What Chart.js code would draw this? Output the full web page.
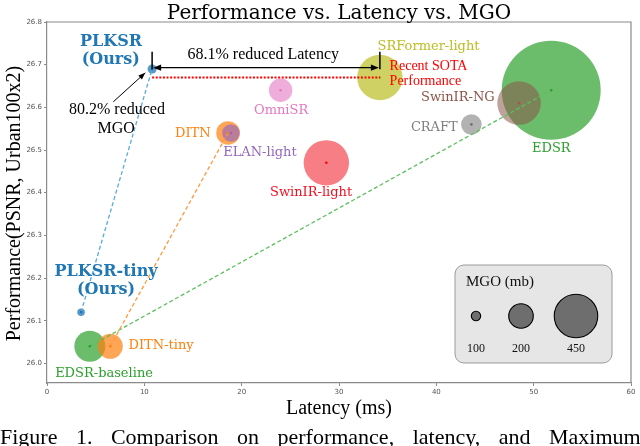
<!DOCTYPE html>
<html>
<head>
<meta charset="utf-8">
<script src="https://cdn.jsdelivr.net/npm/chart.js@4.4.0/dist/chart.umd.min.js"></script>
<style>
  body { margin: 0; background: #fff; }
  #wrap { width: 640px; height: 446px; }
</style>
</head>
<body>
<div id="wrap"><canvas id="chart" width="640" height="446"></canvas></div>
<script>
// models, in drawing order (first = bottom)
var models  = ['EDSR', 'SwinIR-NG', 'CRAFT', 'SRFormer-light', 'SwinIR-light', 'OmniSR',
               'DITN', 'ELAN-light', 'EDSR-baseline', 'DITN-tiny', 'PLKSR-tiny', 'PLKSR'];
var latency = [51.8, 48.5, 43.6, 34.2, 28.7, 24.0, 18.6, 18.9, 4.4, 6.5, 3.5, 10.8];
var psnr    = [26.64, 26.61, 26.56, 26.67, 26.47, 26.64, 26.54, 26.54, 26.04, 26.04, 26.12, 26.69];
var mgo     = [1982, 451, 165, 482, 482, 189, 191, 143, 269, 204, 94, 99];

var xTicks = [0, 10, 20, 30, 40, 50, 60];
var yTicks = [26.0, 26.1, 26.2, 26.3, 26.4, 26.5, 26.6, 26.7, 26.8];
var legendMgo = [100, 200, 450];

// styles
var fills = ['rgba(44,160,44,0.7)', 'rgba(140,86,75,0.55)', 'rgba(127,127,127,0.6)', 'rgba(188,189,34,0.7)',
             'rgba(240,40,50,0.6)', 'rgba(227,119,194,0.6)', 'rgba(255,127,14,0.7)', 'rgba(148,103,189,0.65)',
             'rgba(44,160,44,0.7)', 'rgba(255,127,14,0.7)', 'rgba(31,119,180,0.75)', 'rgba(31,119,180,0.75)'];
var dots  = ['#2ca02c', '#b4504b', '#707070', '#a8a81e', '#ff0000', '#e377c2',
             '#ff7f0e', '#9467bd', '#2ca02c', '#ff7f0e', '#1f77b4', '#1f77b4'];

var links = [['PLKSR-tiny', 'PLKSR', '#5aaae0'], ['DITN-tiny', 'DITN', '#ff9a40'], ['EDSR-baseline', 'EDSR', '#5cc05c']];

// text labels: [text, x, y, colour, font, align]
var serif = '"DejaVu Serif", serif';
var times = '"Liberation Serif", "Times New Roman", serif';
var labels = [
  ['PLKSR', 6.58, 26.7545, '#1f77b4', 'bold 16px ' + serif, 'center'],
  ['(Ours)', 6.55, 26.7116, '#1f77b4', 'bold 16px ' + serif, 'center'],
  ['PLKSR-tiny', 6.07, 26.2149, '#1f77b4', 'bold 16px ' + serif, 'center'],
  ['(Ours)', 6.07, 26.172, '#1f77b4', 'bold 16px ' + serif, 'center'],
  ['OmniSR', 24.05, 26.593, '#e377c2', '13px ' + serif, 'center'],
  ['DITN', 14.98, 26.539, '#ff7f0e', '13px ' + serif, 'center'],
  ['ELAN-light', 21.88, 26.4946, '#9467bd', '13px ' + serif, 'center'],
  ['SwinIR-light', 27.13, 26.3995, '#f01020', '13px ' + serif, 'center'],
  ['SRFormer-light', 39.2, 26.7432, '#bcbd22', '13px ' + serif, 'center'],
  ['SwinIR-NG', 42.21, 26.6229, '#8c564b', '13px ' + serif, 'center'],
  ['CRAFT', 39.79, 26.5532, '#7f7f7f', '13px ' + serif, 'center'],
  ['EDSR', 51.81, 26.5027, '#2ca02c', '13px ' + serif, 'center'],
  ['EDSR-baseline', 5.86, 25.977, '#2ca02c', '13px ' + serif, 'center'],
  ['DITN-tiny', 11.72, 26.0411, '#ff7f0e', '13px ' + serif, 'center'],
  ['68.1% reduced Latency', 22.22, 26.722, '#000', '16px ' + times, 'center'],
  ['80.2% reduced', 7.19, 26.594, '#000', '16px ' + times, 'center'],
  ['MGO', 7.1, 26.5486, '#000', '16px ' + times, 'center'],
  ['Recent SOTA', 35.2, 26.695, '#ff0000', '14px ' + times, 'left'],
  ['Performance', 35.2, 26.66, '#ff0000', '14px ' + times, 'left']
];

function mgoToRadius(m) { return Math.sqrt(1.29 * (m - 83)); }
function idx(name) { return models.indexOf(name); }

var bubbles = models.map(function (m, i) { return { x: latency[i], y: psnr[i], r: mgoToRadius(mgo[i]) }; });
var centers = models.map(function (m, i) { return { x: latency[i], y: psnr[i] }; });

var datasets = [{
  type: 'scatter', data: centers, pointRadius: 1.3, pointBackgroundColor: dots, pointBorderWidth: 0
}];
links.forEach(function (l) {
  var a = idx(l[0]), b = idx(l[1]);
  datasets.push({
    type: 'line', data: [{ x: latency[a], y: psnr[a] }, { x: latency[b], y: psnr[b] }],
    borderColor: l[2], borderWidth: 1.3, borderDash: [4, 2.5], pointRadius: 0, fill: false
  });
});
datasets.push({ type: 'bubble', data: bubbles, backgroundColor: fills, borderWidth: 0 });

function head(ctx, x1, y1, x2, y2, len, w) {
  var a = Math.atan2(y2 - y1, x2 - x1);
  ctx.beginPath();
  ctx.moveTo(x2, y2);
  ctx.lineTo(x2 - len * Math.cos(a) + w * Math.sin(a), y2 - len * Math.sin(a) - w * Math.cos(a));
  ctx.lineTo(x2 - len * Math.cos(a) - w * Math.sin(a), y2 - len * Math.sin(a) + w * Math.cos(a));
  ctx.closePath();
  ctx.fill();
}

var annotations = {
  id: 'annotations',
  afterDatasetsDraw: function (chart) {
    var ctx = chart.ctx, xs = chart.scales.x, ys = chart.scales.y, ca = chart.chartArea;
    var p = idx('PLKSR'), s = idx('SRFormer-light');
    var x1 = xs.getPixelForValue(latency[p]), x2 = xs.getPixelForValue(latency[s]);
    ctx.save();
    // red dotted line at SOTA level
    ctx.strokeStyle = '#ff0000'; ctx.lineWidth = 2; ctx.setLineDash([2, 1.6]);
    var yr = ys.getPixelForValue(psnr[s]);
    ctx.beginPath(); ctx.moveTo(x1, yr); ctx.lineTo(x2, yr); ctx.stroke();
    ctx.setLineDash([]);
    // latency double arrow with end bars
    var ya = ys.getPixelForValue(psnr[p] + 0.003), yb = ys.getPixelForValue(26.73);
    ctx.strokeStyle = '#000'; ctx.fillStyle = '#000'; ctx.lineWidth = 1.3;
    ctx.beginPath(); ctx.moveTo(x1 + 4, ya); ctx.lineTo(x2 - 4, ya); ctx.stroke();
    head(ctx, x2, ya, x1 + 1, ya, 8, 3.2);
    head(ctx, x1, ya, x2 - 1, ya, 8, 3.2);
    ctx.lineWidth = 1.5;
    [x1, x2].forEach(function (x) {
      ctx.beginPath(); ctx.moveTo(x, ya + 1.5); ctx.lineTo(x, yb); ctx.stroke();
    });
    // MGO arrow
    var ax = xs.getPixelForValue(6.81), ay = ys.getPixelForValue(26.613);
    var bx = xs.getPixelForValue(10.1), by = ys.getPixelForValue(26.681);
    ctx.lineWidth = 1;
    ctx.beginPath(); ctx.moveTo(ax, ay); ctx.lineTo(bx, by); ctx.stroke();
    head(ctx, ax, ay, bx, by, 7, 2.6);
    // labels
    labels.forEach(function (l) {
      ctx.font = l[4]; ctx.fillStyle = l[3]; ctx.textAlign = l[5]; ctx.textBaseline = 'middle';
      ctx.fillText(l[0], xs.getPixelForValue(l[1]), ys.getPixelForValue(l[2]));
    });
    // top and right spines
    ctx.strokeStyle = '#8a8a8a'; ctx.lineWidth = 1.2;
    ctx.beginPath(); ctx.moveTo(ca.left, ca.top); ctx.lineTo(ca.right, ca.top); ctx.lineTo(ca.right, ca.bottom); ctx.stroke();

    // size legend
    var bw = 157, bh = 98, bxr = ca.right - 19 - bw, byt = ca.bottom - 20 - bh;
    ctx.fillStyle = '#e6e6e6'; ctx.strokeStyle = '#9a9a9a'; ctx.lineWidth = 1;
    ctx.beginPath(); ctx.roundRect(bxr, byt, bw, bh, 9); ctx.fill(); ctx.stroke();
    ctx.fillStyle = '#111'; ctx.font = '15px ' + times; ctx.textAlign = 'left'; ctx.textBaseline = 'middle';
    ctx.fillText('MGO (mb)', bxr + 11, byt + 17);
    var offs = [21, 66, 121];
    legendMgo.forEach(function (m, i) {
      var cx = bxr + offs[i], cy = byt + 51;
      ctx.beginPath(); ctx.arc(cx, cy, mgoToRadius(m), 0, Math.PI * 2);
      ctx.fillStyle = '#6e6e6e'; ctx.fill();
      ctx.strokeStyle = '#000'; ctx.lineWidth = 1.1; ctx.stroke();
      ctx.fillStyle = '#111'; ctx.font = '12px ' + times; ctx.textAlign = 'center';
      ctx.fillText(String(m), cx, byt + 84);
    });

    // title, axis titles, caption
    var mid = (ca.left + ca.right) / 2;
    ctx.fillStyle = '#000'; ctx.textBaseline = 'alphabetic'; ctx.textAlign = 'center';
    ctx.font = '20px ' + serif;
    ctx.fillText('Performance vs. Latency vs. MGO', mid, 18.5);
    ctx.font = '20px ' + times;
    ctx.fillText('Latency (ms)', mid, 413.5);
    ctx.save();
    ctx.translate(19.5, (ca.top + ca.bottom) / 2 + 1);
    ctx.rotate(-Math.PI / 2);
    ctx.fillText('Performance(PSNR, Urban100x2)', 0, 0);
    ctx.restore();
    ctx.font = '22px ' + times; ctx.textAlign = 'left';
    var words = 'Figure 1. Comparison on performance, latency, and Maximum'.split(' ');
    var cx0 = 0, sp = ctx.measureText(' ').width + 13;
    words.forEach(function (w) { ctx.fillText(w, cx0, 444); cx0 += ctx.measureText(w).width + sp; });
    ctx.restore();
  }
};

new Chart(document.getElementById('chart').getContext('2d'), {
  type: 'bubble',
  data: { datasets: datasets },
  options: {
    responsive: false,
    animation: false,
    events: [],
    layout: { autoPadding: false, padding: { left: 0, right: 9, top: 22, bottom: 0 } },
    plugins: { legend: { display: false }, tooltip: { enabled: false }, title: { display: false } },
    scales: {
      x: {
        type: 'linear', min: 0, max: 60,
        afterBuildTicks: function (s) { s.ticks = xTicks.map(function (v) { return { value: v }; }); },
        afterFit: function (s) { s.height = 63; },
        grid: { drawOnChartArea: false, drawTicks: true, tickLength: 3, color: '#8a8a8a' },
        border: { display: true, color: '#8a8a8a', width: 1.2 },
        ticks: { font: { family: 'DejaVu Sans', size: 7 }, color: '#555', padding: 2, maxRotation: 0 }
      },
      y: {
        type: 'linear', min: 25.954, max: 26.8,
        afterBuildTicks: function (s) { s.ticks = yTicks.map(function (v) { return { value: v }; }); },
        afterFit: function (s) { s.width = 47; },
        grid: { drawOnChartArea: false, drawTicks: true, tickLength: 3, color: '#8a8a8a' },
        border: { display: true, color: '#8a8a8a', width: 1.2 },
        ticks: { font: { family: 'DejaVu Sans', size: 7 }, color: '#555', padding: 2,
                 callback: function (v) { return Number(v).toFixed(1); } }
      }
    }
  },
  plugins: [annotations]
});
</script>
</body>
</html>
